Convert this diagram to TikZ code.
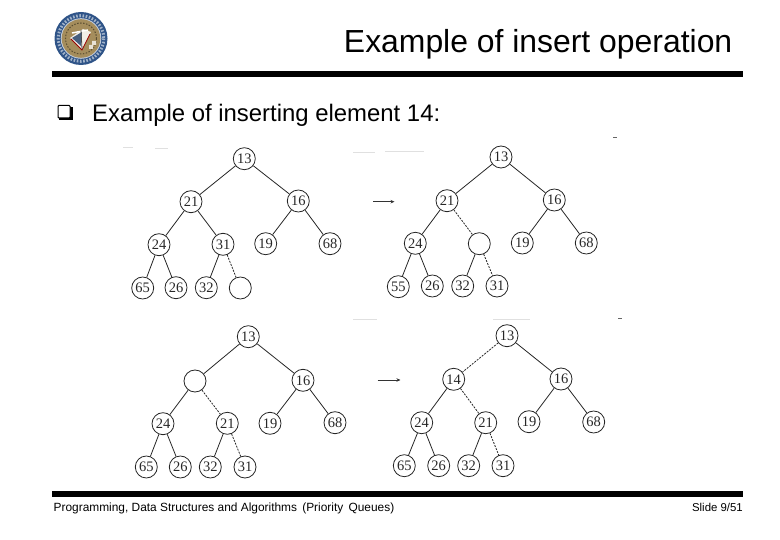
\documentclass[tikz,border=0pt]{standalone}
\usepackage{fontspec}
\setmainfont{Liberation Sans}
\newfontfamily\heapfont{Liberation Serif}
\usetikzlibrary{arrows.meta}

\definecolor{sealblue}{HTML}{2F5488}
\definecolor{sealtan}{HTML}{A58D5C}

\tikzset{
  heapnode/.style={draw=black!85, circle, line width=0.8pt, minimum size=22pt, inner sep=0pt, font=\heapfont\fontsize{14.5}{16}\selectfont, text=black!85},
  heapedge/.style={draw=black!85, line width=0.8pt},
  heapmove/.style={heapedge, dashed, dash pattern=on 2pt off 1.2pt},
  steparrow/.style={draw=black!80, line width=0.9pt, -{Stealth[length=4pt, width=3.5pt]}},
  slidebar/.style={fill=black, draw=none},
  scanmark/.style={draw=black!12, line width=0.8pt}
}

\begin{document}
\begin{tikzpicture}[x=1pt, y=-1pt]
  \useasboundingbox (0,0) rectangle (780,540);

  % Logo
  \fill[sealblue] (81,38.5) circle (26.5);
  \draw[white!55!sealblue, line width=3pt, dash pattern=on 1.6pt off 1.6pt] (81,38.5) circle (22.8);
  \fill[white!70!sealblue] (81,38.5) circle (20.3);
  \fill[sealtan] (81,38.5) circle (19.3);
  \draw[black!45!sealtan, line width=1pt, dash pattern=on 1.5pt off 1.5pt] (81,38.5) circle (15.5);
  \fill[white!85!sealtan] (70,38) -- (83,29) -- (91,32) -- (82,50) -- cycle;
  \fill[sealblue!80!sealtan] (72,38) -- (82,32) -- (81,46) -- cycle;
  \draw[red!60!black, line width=0.8pt] (71,39) -- (82,50) -- (90,34);
  \draw[white, line width=1.5pt] (72,33) -- (88,30);
  \draw[black!70, line width=0.8pt] (81,30) -- (82,49);
  \fill[white!75!sealtan] (92,41) rectangle (96,45) (89,45) rectangle (93,49);

  % Title
  \node[anchor=base east, inner sep=0pt, font=\fontsize{31.9}{36}\selectfont] (title) at (732.5,52.8) {Example of insert operation};
  \fill[slidebar] (52,71) rectangle (743,77);

  % Bullet
  \fill[black] (59,107) rectangle (72.5,120.5);
  \draw[black, fill=white, line width=1pt, rounded corners=0.8pt] (58,105.5) rectangle (70,118);
  \node[anchor=base west, inner sep=0pt, font=\fontsize{23.9}{28}\selectfont] (subtitle) at (92,122) {Example of inserting element 14:};

  % Trees, positions numbered as in the heap array
  \foreach \name/\xx/\yy/\txt in {
    a1/244.3/158.7/13, a2/191/201.7/21, a3/298.3/201/16, a4/159/244.7/24, a5/223/244.3/31, a6/265.7/243.7/19, a7/330/243.7/68, a8/142.7/288/65, a9/176/287.7/26, a10/206.3/287.7/32, a11/240.3/288/{},
    b1/501/157/13, b2/447/200.7/21, b3/554.3/200/16, b4/415.3/243.3/24, b5/479.3/243.7/{}, b6/522.3/243/19, b7/586.3/243/68, b8/398.3/286.7/55, b9/432.3/286/26, b10/462.7/286/32, b11/497/286/31,
    c1/248.3/336.7/13, c2/195/381/{}, c3/303/380.3/16, c4/163/423.7/24, c5/227.3/423.3/21, c6/270/423.3/19, c7/335/422.7/68, c8/146.3/467/65, c9/180.3/467/26, c10/210.3/467/32, c11/245/467/31,
    d1/507/335.7/13, d2/453.7/379.3/14, d3/561/379/16, d4/421.7/422.7/24, d5/485.7/422.7/21, d6/529/421.7/19, d7/593.7/422/68, d8/404.3/465.7/65, d9/438.7/465.7/26, d10/468.7/465.7/32, d11/503/465.7/31}
    \node[heapnode] (\name) at (\xx,\yy) {\txt};

  % Edges
  \foreach \tree in {a,b,c,d}
    \foreach \up/\kid in {1/3, 2/4, 3/6, 3/7, 4/8, 4/9, 5/10}
      \draw[heapedge] (\tree\up) -- (\tree\kid);
  \foreach \from/\to in {a1/a2, a2/a5, b1/b2, c1/c2}
    \draw[heapedge] (\from) -- (\to);
  \foreach \from/\to in {a5/a11, b2/b5, b5/b11, c2/c5, c5/c11, d1/d2, d2/d5, d5/d11}
    \draw[heapmove] (\from) -- (\to);

  % Arrows between the steps
  \coordinate (stepa) at (373,201.7);
  \coordinate (stepb) at (394.5,201.7);
  \coordinate (stepc) at (377.5,380);
  \coordinate (stepd) at (400.5,380);
  \draw[steparrow] (stepa) -- (stepb);
  \draw[steparrow] (stepc) -- (stepd);

  % Specks left by the scan
  \draw[scanmark] (123,147) -- (133,147) (155,148) -- (168,148);
  \draw[scanmark] (353,152.7) -- (375,152.7) (385,151) -- (424,151);
  \draw[scanmark] (353,319) -- (377,319) (493,319) -- (530,319);
  \draw[black!60, line width=1pt] (613,137.5) -- (617,137.5) (618,318.5) -- (622,318.5);

  % Footer
  \fill[slidebar] (52,491) rectangle (743,497);
  \node[anchor=base west, inner sep=0pt, font=\fontsize{11.9}{14}\selectfont] (course) at (53.5,511) {Programming, Data Structures and Algorithms\, (Priority\, Queues)};
  \node[anchor=base east, inner sep=0pt, font=\fontsize{11.4}{14}\selectfont] (slideno) at (743,511) {Slide 9/51};
\end{tikzpicture}
\end{document}
